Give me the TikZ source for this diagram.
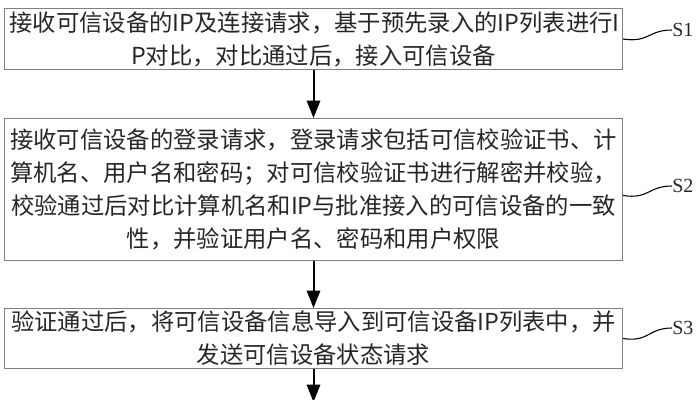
\documentclass[tikz,border=0pt]{standalone}
\usepackage{fontspec}
\setmainfont{Noto Sans CJK SC}
\newfontfamily\labelfont{Liberation Serif}
\usepackage{tikz}
\usetikzlibrary{positioning,arrows.meta}

\begin{document}
\begin{tikzpicture}[x=0.75pt, y=-0.75pt,
     stepbox/.style = {draw=black!50, line width=0.75pt, text width=456pt, inner xsep=3.75pt, inner ysep=0pt, align=center, text=black!85, font=\fontsize{17.5}{24.75}\selectfont},
     steplabel/.style = {anchor=west, inner sep=0pt, text=black!85, font=\labelfont\fontsize{15}{15}\selectfont},
     flow/.style = {-{Triangle[width=10pt,length=13pt]}, line width=1.5pt},
     lead/.style = {line width=0.8pt}]
     \useasboundingbox (0,0) rectangle (700,400);

     \node[stepbox, minimum height=45.75pt, anchor=north west] (s1) at (4,8) {接收可信设备的IP及连接请求，基于预先录入的IP列表进行I\\P对比，对比通过后，接入可信设备};
     \node[stepbox, minimum height=106.5pt] (s2) [below=36pt of s1] {接收可信设备的登录请求，登录请求包括可信校验证书、计\\算机名、用户名和密码；对可信校验证书进行解密并校验，\\校验通过后对比计算机名和IP与批准接入的可信设备的一致\\性，并验证用户名、密码和用户权限};
     \node[stepbox, minimum height=45pt] (s3) [below=35.25pt of s2] {验证通过后，将可信设备信息导入到可信设备IP列表中，并\\发送可信设备状态请求};
     \coordinate[below=24.75pt of s3] (end);

     \node[steplabel] (l1) at (672,30) {S1};
     \node[steplabel] (l2) at (672,186) {S2};
     \node[steplabel] (l3) at (672,328) {S3};

     \draw[flow] (s1)--(s2);
     \draw[flow] (s2)--(s3);
     \draw[flow] (s3)--(end);

     \draw[lead] (s1.east) .. controls +(26,4) and +(-24,0) .. (l1.west);
     \draw[lead] ([yshift=-4.5pt]s2.east) .. controls +(26,4) and +(-24,0) .. (l2.west);
     \draw[lead] (s3.east) .. controls +(26,4) and +(-24,0) .. (l3.west);
\end{tikzpicture}
\end{document}
